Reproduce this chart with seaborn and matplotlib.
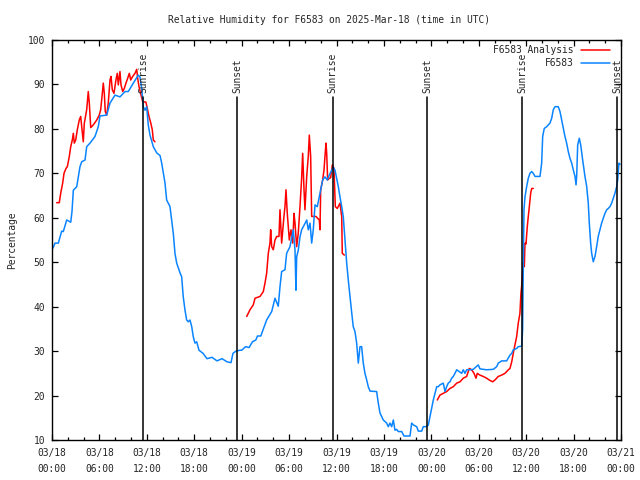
import matplotlib
matplotlib.use("Agg")
import matplotlib.pyplot as plt
from matplotlib.lines import Line2D
from matplotlib.ticker import MultipleLocator
import numpy as np
import pandas as pd
import seaborn as sns

# ---------------- data (hours since 2025-03-18 00:00 UTC) ----------------
title = "Relative Humidity for F6583 on 2025-Mar-18 (time in UTC)"
ylabel = "Percentage"
station_label = "F6583"
analysis_label = "F6583 Analysis"

tick_hours = [0, 6, 12, 18, 24, 30, 36, 42, 48, 54, 60, 66, 72]
tick_labels = ["03/18\n00:00", "03/18\n06:00", "03/18\n12:00", "03/18\n18:00",
               "03/19\n00:00", "03/19\n06:00", "03/19\n12:00", "03/19\n18:00",
               "03/20\n00:00", "03/20\n06:00", "03/20\n12:00", "03/20\n18:00",
               "03/21\n00:00"]

sunrise_hours = [11.55, 35.50, 59.50]
sunset_hours = [23.45, 47.50, 71.55]

obs_t = [0.13, 0.38, 0.80, 1.23, 1.43, 1.86, 2.37, 2.53, 2.70, 3.13, 3.54, 3.76, 4.18, 4.39,
         4.81, 5.44, 5.86, 6.07, 6.92, 7.34, 7.97, 8.60, 9.24, 9.65, 10.29, 10.92, 11.13,
         11.35, 11.55, 11.77, 11.98, 12.18, 12.40, 12.82, 13.25, 13.67, 13.88, 14.30, 14.51,
         14.93, 15.14, 15.35, 15.56, 15.78, 16.20, 16.41, 16.61, 16.83, 17.04, 17.25, 17.46,
         17.68, 17.88, 18.09, 18.31, 18.60, 19.11, 19.61, 20.25, 20.88, 21.51, 22.14, 22.65,
         22.90, 23.28, 23.79, 24.00, 24.50, 24.94, 25.36, 25.79, 26.00, 26.42, 27.16, 27.80,
         28.22, 28.63, 28.85, 29.06, 29.48, 29.69, 30.11, 30.53, 30.75, 30.87, 30.96, 31.16,
         31.38, 31.59, 32.01, 32.23, 32.43, 32.65, 32.86, 33.06, 33.28, 33.57, 33.91, 34.25,
         34.54, 34.83, 35.09, 35.39, 35.59, 35.81, 36.02, 36.23, 36.44, 36.66, 36.86, 37.07,
         37.29, 37.49, 37.71, 37.92, 38.12, 38.34, 38.55, 38.76, 38.97, 39.18, 39.39, 39.60,
         39.82, 40.02, 40.24, 41.08, 41.29, 41.50, 41.92, 42.35, 42.55, 42.77, 42.98, 43.19,
         43.40, 43.61, 43.82, 44.25, 44.54, 45.30, 45.51, 45.72, 46.15, 46.35, 46.78, 46.98,
         47.41, 47.62, 47.83, 48.04, 48.25, 48.46, 48.68, 48.88, 49.09, 49.51, 49.73, 49.94,
         50.14, 50.36, 50.57, 50.78, 50.99, 51.21, 51.84, 52.04, 52.26, 52.47, 52.89, 53.31,
         53.94, 54.15, 55.00, 55.84, 56.27, 56.47, 56.90, 57.53, 57.95, 58.17, 58.37, 58.80,
         59.00, 59.43, 59.55, 59.64, 59.72, 59.85, 60.06, 60.27, 60.48, 60.70, 60.90, 61.12,
         61.75, 61.96, 62.09, 62.29, 62.60, 63.01, 63.23, 63.43, 63.65, 64.06, 64.28, 64.49,
         64.70, 64.91, 65.12, 65.33, 65.54, 65.76, 65.96, 66.18, 66.31, 66.39, 66.52, 66.72,
         66.90, 67.15, 67.44, 67.66, 67.86, 67.99, 68.16, 68.29, 68.49, 68.71, 68.92, 69.12,
         69.34, 69.55, 69.76, 69.97, 70.19, 70.39, 70.60, 70.82, 71.02, 71.23, 71.45, 71.58,
         71.74, 71.87]
obs_v = [53.2, 54.3, 54.3, 57.0, 56.9, 59.5, 59.0, 61.4, 66.2, 67.0, 71.5, 72.6, 73.0, 76.0,
         76.8, 78.3, 80.5, 82.9, 83.1, 85.8, 87.6, 87.2, 88.4, 88.4, 90.3, 92.1, 91.7,
         89.1, 85.0, 84.2, 85.0, 80.9, 78.6, 76.0, 74.6, 74.0, 72.3, 67.8, 64.0,
         62.5, 59.5, 56.5, 52.0, 49.8, 47.6, 46.7, 42.2, 39.2, 37.0, 36.6, 37.0,
         35.5, 33.2, 31.8, 32.1, 30.2, 29.5, 28.3, 28.6, 27.8, 28.3, 27.6, 27.4,
         29.5, 30.0, 30.2, 30.2, 31.0, 30.8, 32.1, 32.5, 33.4, 33.4, 37.0, 38.9,
         41.9, 40.1, 44.5, 47.9, 48.3, 52.0, 53.5, 57.3, 52.7, 43.7, 51.2, 52.7,
         55.7, 57.3, 58.7, 59.5, 57.3, 58.8, 54.3, 57.3, 62.9, 62.5, 65.5, 68.5,
         69.2, 68.5, 69.6, 70.7, 71.4, 70.7, 68.9, 67.0, 64.7, 62.5, 60.2, 55.0,
         49.8, 46.0, 42.2, 38.7, 35.5, 34.4, 31.8, 27.3, 31.0, 31.0, 27.3, 25.0,
         23.5, 22.0, 21.0, 20.9, 18.3, 16.1, 14.5, 13.8, 13.0, 13.8, 13.0, 14.5,
         12.2, 12.4, 11.9, 11.9, 10.9, 10.9, 13.8, 13.4, 13.0, 12.0, 12.0, 13.0,
         13.0, 13.4, 15.3, 17.1, 19.0, 20.5, 22.0, 22.0, 22.4, 22.8, 20.9, 22.0,
         22.8, 23.1, 23.9, 24.3, 25.0, 25.8, 25.0, 25.8, 25.0, 25.8, 25.8, 25.9,
         26.9, 26.0, 25.8, 25.9, 26.5, 27.3, 27.8, 27.8, 29.1, 29.5, 30.3, 30.6,
         31.0, 31.1, 34.8, 49.8, 61.7, 64.7, 67.0, 68.9, 70.0, 70.4, 70.0, 69.3,
         69.3, 72.3, 78.3, 80.1, 80.5, 81.3, 82.4, 84.3, 85.0, 85.0, 83.9, 82.0,
         80.1, 78.3, 76.8, 74.9, 73.4, 72.3, 70.8, 69.3, 67.4, 69.3, 76.4, 77.9,
         76.4, 73.0, 69.3, 67.0, 63.3, 58.8, 54.3, 52.0, 50.1, 51.3, 53.5, 55.8,
         57.3, 58.8, 59.9, 61.0, 61.8, 62.1, 62.5, 63.3, 64.4, 65.5, 67.0, 68.5,
         72.3, 72.0]

# analysis series: three separate runs (gaps between them)
ana1_t = [0.59, 0.92, 1.10, 1.35, 1.52, 1.77, 1.94, 2.19, 2.37, 2.57, 2.70, 2.82, 3.00, 3.20,
          3.45, 3.63, 3.80, 3.96, 4.09, 4.39, 4.59, 4.72, 4.90, 5.23, 5.66, 5.98, 6.16, 6.33,
          6.49, 6.62, 6.74, 6.92, 7.12, 7.34, 7.47, 7.63, 7.84, 8.10, 8.26, 8.39, 8.60, 8.73,
          8.95, 9.15, 9.36, 9.58, 9.78, 9.96, 10.21, 10.50, 10.72, 10.84, 11.01, 11.26, 11.48,
          11.64, 11.89, 12.06, 12.27, 12.49, 12.69, 12.82, 13.03]
ana1_v = [63.4, 63.4, 65.5, 67.8, 70.0, 71.1, 71.5, 73.8, 76.0, 77.5, 79.0, 76.8, 77.5, 79.8,
          82.0, 82.8, 79.8, 77.1, 81.3, 84.3, 88.4, 85.8, 80.3, 80.9, 82.0, 83.1, 84.3, 87.3,
          90.3, 88.0, 83.9, 83.1, 85.8, 91.0, 91.8, 88.8, 88.0, 91.1, 92.5, 89.9, 92.9, 89.9,
          88.4, 89.1, 90.3, 91.4, 92.5, 91.0, 91.8, 92.5, 93.4, 91.4, 89.5, 87.6, 86.1,
          86.1, 86.0, 84.6, 82.8, 81.4, 79.8, 77.5, 77.1]

ana2_t = [24.64, 25.05, 25.47, 25.69, 26.32, 26.74, 26.95, 27.16, 27.37, 27.58, 27.67, 27.80,
          28.00, 28.22, 28.43, 28.72, 28.85, 29.06, 29.35, 29.48, 29.61, 29.77, 30.03, 30.24,
          30.46, 30.62, 30.75, 30.96, 31.16, 31.38, 31.59, 31.72, 31.89, 32.01, 32.23, 32.43,
          32.56, 32.73, 32.86, 33.40, 33.82, 33.91, 34.00, 34.25, 34.42, 34.54, 34.67, 34.76,
          34.88, 35.09, 35.26, 35.47, 35.68, 35.85, 36.10, 36.44, 36.66, 36.73, 36.99]
ana2_v = [37.8, 39.3, 40.4, 41.9, 42.3, 43.4, 45.3, 47.5, 52.0, 54.3, 57.3, 53.5,
          52.8, 55.0, 55.8, 55.8, 61.8, 54.3, 60.3, 62.5, 66.3, 61.0, 55.0, 57.3,
          54.3, 61.0, 58.8, 53.5, 56.5, 62.5, 68.9, 74.5, 66.3, 61.8, 69.3, 73.8,
          78.6, 73.8, 60.3, 60.3, 59.5, 57.3, 66.3, 68.5, 70.8, 73.8, 76.8, 74.5,
          68.5, 68.9, 69.0, 71.9, 71.1, 62.5, 62.1, 63.3, 60.2, 52.0, 51.6]

ana3_t = [48.75, 49.09, 49.51, 49.94, 50.36, 50.78, 51.21, 51.63, 52.04, 52.47, 52.80, 53.10,
          53.40, 53.65, 53.81, 54.15, 54.57, 55.00, 55.42, 55.76, 56.05, 56.47, 56.90, 57.32,
          57.74, 57.95, 58.17, 58.37, 58.58, 58.80, 59.00, 59.21, 59.34, 59.47, 59.64, 59.77,
          59.85, 59.98, 60.14, 60.27, 60.40, 60.57, 60.70, 60.90]
ana3_v = [19.0, 20.1, 20.5, 20.9, 21.6, 22.0, 22.8, 23.1, 23.9, 24.3, 26.1, 25.8,
          25.0, 23.9, 25.0, 24.6, 24.3, 23.9, 23.4, 23.1, 23.5, 24.3, 24.6, 25.0,
          25.8, 26.1, 27.6, 29.5, 31.4, 33.3, 36.3, 38.5, 43.0, 45.4, 49.8, 49.0,
          54.3, 54.1, 58.0, 60.3, 62.5, 65.5, 66.6, 66.6]

# ---------------- build frames ----------------
obs = pd.DataFrame({"hour": obs_t, "rh": obs_v})
ana = pd.concat([
    pd.DataFrame({"hour": ana1_t, "rh": ana1_v, "run": 1}),
    pd.DataFrame({"hour": ana2_t, "rh": ana2_v, "run": 2}),
    pd.DataFrame({"hour": ana3_t, "rh": ana3_v, "run": 3}),
], ignore_index=True)

RED = "#ff0000"
BLUE = "#0a84ff"

sns.set_theme(style="white")
plt.rcParams["font.family"] = ["DejaVu Sans Mono"]
FS = 6.9

fig = plt.figure(figsize=(6.4, 4.8), dpi=100)
fig.patch.set_facecolor("white")
ax = fig.add_axes([52 / 640, 40 / 480, 569 / 640, 400 / 480])

sns.lineplot(data=ana, x="hour", y="rh", units="run", estimator=None, sort=False,
             color=RED, linewidth=1.1, ax=ax, legend=False)
sns.lineplot(data=obs, x="hour", y="rh", estimator=None, sort=False,
             color=BLUE, linewidth=1.1, ax=ax, legend=False)

# sunrise / sunset markers
line_top = 0.8575
for h in sunrise_hours:
    ax.axvline(h, ymin=0, ymax=line_top, color="black", linewidth=1.1)
    ax.text(h, 0.8675, "Sunrise", rotation=90, ha="center", va="bottom",
            fontsize=FS, transform=ax.get_xaxis_transform())
for h in sunset_hours:
    ax.axvline(h, ymin=0, ymax=line_top, color="black", linewidth=1.1)
    ax.text(h, 0.8675, "Sunset", rotation=90, ha="center", va="bottom",
            fontsize=FS, transform=ax.get_xaxis_transform())

ax.set_xlim(0, 72)
ax.set_ylim(10, 100)
ax.set_xticks(tick_hours)
ax.set_xticklabels(tick_labels, fontsize=FS, linespacing=1.65)
ax.xaxis.set_minor_locator(MultipleLocator(2))
ax.yaxis.set_major_locator(MultipleLocator(10))
ax.tick_params(axis="y", labelsize=FS)
ax.tick_params(which="major", direction="in", length=4, width=0.9, color="black",
               top=True, right=True, bottom=True, left=True, pad=5)
ax.tick_params(axis="x", which="minor", direction="in", length=2, width=0.9,
               color="black", top=True, bottom=True)
ax.tick_params(axis="x", which="major", pad=6)
for s in ax.spines.values():
    s.set_color("black")
    s.set_linewidth(1.0)
ax.grid(False)

ax.set_xlabel("")
ax.set_ylabel(ylabel, fontsize=FS, labelpad=8)
ax.text(0.487, 1.05, title, transform=ax.transAxes, ha="center", va="center",
        fontsize=FS)

handles = [Line2D([], [], color=RED, linewidth=1.1),
           Line2D([], [], color=BLUE, linewidth=1.1)]
ax.legend(handles, [analysis_label, station_label], loc="upper right",
          bbox_to_anchor=((610 - 52) / 569, 1 - 5 / 400),
          markerfirst=False, frameon=False, fontsize=FS, handlelength=3.05,
          handletextpad=0.73, labelspacing=0.35, borderaxespad=0.0,
          borderpad=0.0)

fig.savefig("out.png", dpi=100)
